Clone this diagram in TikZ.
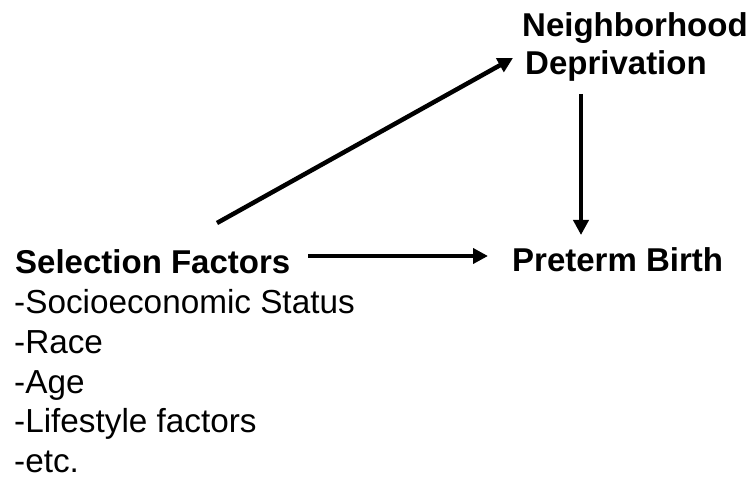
\documentclass[tikz,border=0pt]{standalone}
\usepackage{fontspec}
\setmainfont{Liberation Sans}
\usetikzlibrary{arrows.meta}
\begin{document}
\begin{tikzpicture}[x=1pt,y=-1pt,
  lbl/.style={inner sep=0pt,anchor=base west,font=\fontsize{33.3}{38}\selectfont},
  blbl/.style={lbl,font=\fontsize{33}{38}\selectfont\bfseries},
  arr/.style={line width=4.5pt,-{Triangle[length=15pt,width=15pt]}}]
\useasboundingbox[fill=white] (0,0) rectangle (752,478);
\node[blbl] (nb) at (522,37) {Neighborhood};
\node[blbl] (dp) at (525,75) {Deprivation};
\node[blbl] (pb) at (512,272) {Preterm Birth};
\node[blbl] (sel) at (15,273) {Selection Factors};
\node[lbl] (l1) at (14,313) {-Socioeconomic Status};
\node[lbl] (l2) at (14,353) {-Race};
\node[lbl] (l3) at (14,393) {-Age};
\node[lbl] (l4) at (14,432) {-Lifestyle factors};
\node[lbl] (l5) at (14,472) {-etc.};
\draw[arr] ([shift={(202,-50)}]sel.base west) -- ([shift={(-12,-17)}]dp.base west);
\draw[arr] ([shift={(18,-17)}]sel.base east) -- ([shift={(-24,-16)}]pb.base west);
\draw[arr] ([shift={(56,19)}]dp.base west) -- ([shift={(69,-37)}]pb.base west);
\end{tikzpicture}
\end{document}
